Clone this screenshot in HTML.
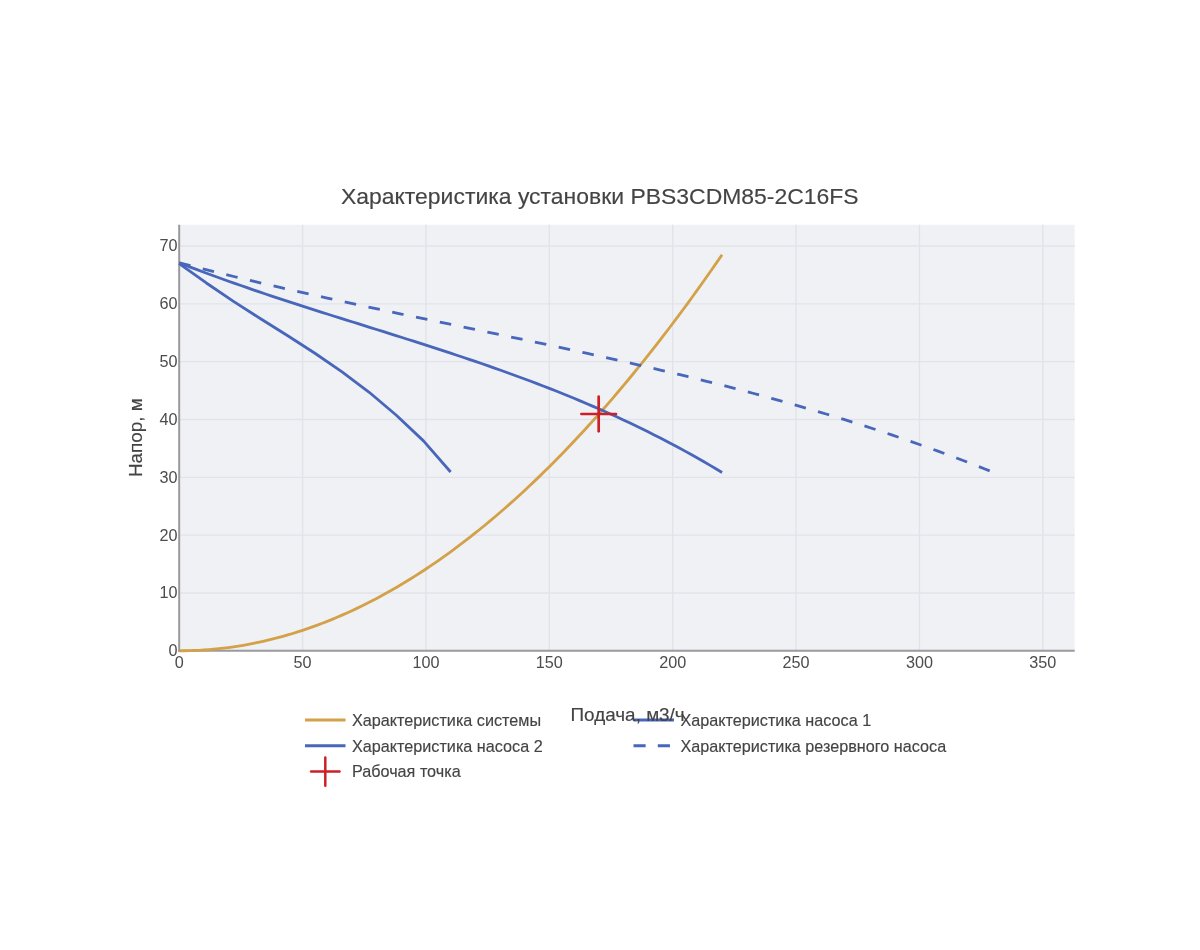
<!DOCTYPE html>
<html><head><meta charset="utf-8"><style>html,body{margin:0;padding:0;background:#fff;width:1200px;height:950px;overflow:hidden;position:relative}</style></head>
<body><svg width="1200" height="950" viewBox="0 0 1200 950" style="position:absolute;left:0;top:0;filter:blur(0.7px)">
<rect x="-10" y="-10" width="1220" height="970" fill="#fff"/>
<rect x="179.19" y="224.8" width="895.51" height="426.00" fill="#f0f1f5"/>
<g stroke="#e1e3e9" stroke-width="1.35"><line x1="302.57" y1="224.8" x2="302.57" y2="650.8" /><line x1="425.95" y1="224.8" x2="425.95" y2="650.8" /><line x1="549.33" y1="224.8" x2="549.33" y2="650.8" /><line x1="672.71" y1="224.8" x2="672.71" y2="650.8" /><line x1="796.09" y1="224.8" x2="796.09" y2="650.8" /><line x1="919.47" y1="224.8" x2="919.47" y2="650.8" /><line x1="1042.85" y1="224.8" x2="1042.85" y2="650.8" /><line x1="179.19" y1="592.97" x2="1074.7" y2="592.97" /><line x1="179.19" y1="535.14" x2="1074.7" y2="535.14" /><line x1="179.19" y1="477.31" x2="1074.7" y2="477.31" /><line x1="179.19" y1="419.48" x2="1074.7" y2="419.48" /><line x1="179.19" y1="361.65" x2="1074.7" y2="361.65" /><line x1="179.19" y1="303.82" x2="1074.7" y2="303.82" /><line x1="179.19" y1="245.99" x2="1074.7" y2="245.99" /></g>
<g stroke="#9a9a9e" stroke-width="2">
<line x1="179.19" y1="224.8" x2="179.19" y2="651.8"/>
<line x1="178.19" y1="650.8" x2="1074.7" y2="650.8"/>
</g>
<g fill="none" stroke-width="2.8" stroke-linejoin="round">
<path d="M179.19,650.80 L184.13,650.77 L189.06,650.67 L194.00,650.51 L198.93,650.28 L203.87,649.98 L208.80,649.62 L213.74,649.20 L218.67,648.71 L223.61,648.15 L228.54,647.53 L233.48,646.84 L238.41,646.09 L243.35,645.27 L248.28,644.38 L253.22,643.44 L258.15,642.42 L263.09,641.34 L268.02,640.19 L272.96,638.98 L277.89,637.71 L282.83,636.37 L287.76,634.96 L292.70,633.48 L297.63,631.95 L302.57,630.34 L307.51,628.67 L312.44,626.94 L317.38,625.14 L322.31,623.27 L327.25,621.34 L332.18,619.34 L337.12,617.28 L342.05,615.16 L346.99,612.96 L351.92,610.70 L356.86,608.38 L361.79,605.99 L366.73,603.54 L371.66,601.01 L376.60,598.43 L381.53,595.78 L386.47,593.06 L391.40,590.28 L396.34,587.43 L401.27,584.52 L406.21,581.54 L411.14,578.50 L416.08,575.39 L421.01,572.21 L425.95,568.97 L430.89,565.66 L435.82,562.29 L440.76,558.86 L445.69,555.35 L450.63,551.79 L455.56,548.15 L460.50,544.45 L465.43,540.69 L470.37,536.86 L475.30,532.97 L480.24,529.01 L485.17,524.98 L490.11,520.89 L495.04,516.73 L499.98,512.51 L504.91,508.22 L509.85,503.87 L514.78,499.45 L519.72,494.96 L524.65,490.41 L529.59,485.80 L534.52,481.12 L539.46,476.37 L544.39,471.56 L549.33,466.68 L554.27,461.74 L559.20,456.73 L564.14,451.66 L569.07,446.52 L574.01,441.32 L578.94,436.05 L583.88,430.71 L588.81,425.31 L593.75,419.84 L598.68,414.31 L603.62,408.72 L608.55,403.05 L613.49,397.33 L618.42,391.53 L623.36,385.67 L628.29,379.75 L633.23,373.76 L638.16,367.70 L643.10,361.58 L648.03,355.40 L652.97,349.14 L657.90,342.83 L662.84,336.44 L667.77,330.00 L672.71,323.48 L677.65,316.90 L682.58,310.26 L687.52,303.55 L692.45,296.77 L697.39,289.93 L702.32,283.03 L707.26,276.05 L712.19,269.02 L717.13,261.91 L722.06,254.75" stroke="#d2a148"/>
<path d="M179.19,263.63 L206.33,282.97 L233.48,301.39 L260.62,318.76 L287.76,335.80 L314.91,353.24 L342.05,371.82 L369.20,392.26 L396.34,415.29 L423.48,440.88 L450.63,472.04" stroke="#4866ba"/>
<path d="M179.19,262.79 L185.36,265.19 L191.53,267.57 L197.70,269.91 L203.87,272.22 L210.03,274.51 L216.20,276.76 L222.37,279.00 L228.54,281.20 L234.71,283.39 L240.88,285.55 L247.05,287.69 L253.22,289.81 L259.39,291.90 L265.56,293.98 L271.73,296.05 L277.89,298.09 L284.06,300.13 L290.23,302.14 L296.40,304.15 L302.57,306.14 L308.74,308.12 L314.91,310.09 L321.08,312.06 L327.25,314.01 L333.41,315.96 L339.58,317.91 L345.75,319.84 L351.92,321.78 L358.09,323.71 L364.26,325.65 L370.43,327.58 L376.60,329.51 L382.77,331.44 L388.94,333.38 L395.11,335.32 L401.27,337.27 L407.44,339.23 L413.61,341.19 L419.78,343.16 L425.95,345.14 L432.12,347.12 L438.29,349.13 L444.46,351.14 L450.63,353.17 L456.80,355.21 L462.96,357.27 L469.13,359.35 L475.30,361.44 L481.47,363.55 L487.64,365.69 L493.81,367.84 L499.98,370.02 L506.15,372.22 L512.32,374.45 L518.49,376.70 L524.65,378.98 L530.82,381.28 L536.99,383.62 L543.16,385.98 L549.33,388.38 L555.50,390.80 L561.67,393.27 L567.84,395.76 L574.01,398.29 L580.17,400.86 L586.34,403.46 L592.51,406.11 L598.68,408.79 L604.85,411.51 L611.02,414.28 L617.19,417.09 L623.36,419.94 L629.53,422.84 L635.70,425.78 L641.87,428.77 L648.03,431.81 L654.20,434.90 L660.37,438.04 L666.54,441.23 L672.71,444.47 L678.88,447.77 L685.05,451.12 L691.22,454.52 L697.39,457.99 L703.56,461.51 L709.72,465.09 L715.89,468.73 L722.06,472.43" stroke="#4866ba"/>
<path d="M179.19,262.79 L188.44,265.19 L197.70,267.57 L206.95,269.91 L216.20,272.22 L225.46,274.51 L234.71,276.76 L243.96,279.00 L253.22,281.20 L262.47,283.39 L271.73,285.55 L280.98,287.69 L290.23,289.81 L299.49,291.90 L308.74,293.98 L317.99,296.05 L327.25,298.09 L336.50,300.13 L345.75,302.14 L355.01,304.15 L364.26,306.14 L373.51,308.12 L382.77,310.09 L392.02,312.06 L401.27,314.01 L410.53,315.96 L419.78,317.91 L429.03,319.84 L438.29,321.78 L447.54,323.71 L456.80,325.65 L466.05,327.58 L475.30,329.51 L484.56,331.44 L493.81,333.38 L503.06,335.32 L512.32,337.27 L521.57,339.23 L530.82,341.19 L540.08,343.16 L549.33,345.14 L558.58,347.12 L567.84,349.13 L577.09,351.14 L586.34,353.17 L595.60,355.21 L604.85,357.27 L614.10,359.35 L623.36,361.44 L632.61,363.55 L641.87,365.69 L651.12,367.84 L660.37,370.02 L669.63,372.22 L678.88,374.45 L688.13,376.70 L697.39,378.98 L706.64,381.28 L715.89,383.62 L725.15,385.98 L734.40,388.38 L743.65,390.80 L752.91,393.27 L762.16,395.76 L771.41,398.29 L780.67,400.86 L789.92,403.46 L799.17,406.11 L808.43,408.79 L817.68,411.51 L826.93,414.28 L836.19,417.09 L845.44,419.94 L854.70,422.84 L863.95,425.78 L873.20,428.77 L882.46,431.81 L891.71,434.90 L900.96,438.04 L910.22,441.23 L919.47,444.47 L928.72,447.77 L937.98,451.12 L947.23,454.52 L956.48,457.99 L965.74,461.51 L974.99,465.09 L984.24,468.73 L993.50,472.43" stroke="#4866ba" stroke-dasharray="11.6,12.7"/>
</g>
<g stroke="#cc2028" stroke-width="2.7" stroke-linecap="round">
<line x1="581.38" y1="413.99" x2="615.98" y2="413.99"/>
<line x1="598.68" y1="396.69" x2="598.68" y2="431.29"/>
</g>
<g font-family="Liberation Sans, sans-serif" font-size="16.2" fill="#4c4c4c"><text transform="translate(179.19,668.30) scale(1,1.0)" text-anchor="middle">0</text><text transform="translate(302.57,668.30) scale(1,1.0)" text-anchor="middle">50</text><text transform="translate(425.95,668.30) scale(1,1.0)" text-anchor="middle">100</text><text transform="translate(549.33,668.30) scale(1,1.0)" text-anchor="middle">150</text><text transform="translate(672.71,668.30) scale(1,1.0)" text-anchor="middle">200</text><text transform="translate(796.09,668.30) scale(1,1.0)" text-anchor="middle">250</text><text transform="translate(919.47,668.30) scale(1,1.0)" text-anchor="middle">300</text><text transform="translate(1042.85,668.30) scale(1,1.0)" text-anchor="middle">350</text><text transform="translate(177.40,656.20) scale(1,1.0)" text-anchor="end">0</text><text transform="translate(177.40,598.37) scale(1,1.0)" text-anchor="end">10</text><text transform="translate(177.40,540.54) scale(1,1.0)" text-anchor="end">20</text><text transform="translate(177.40,482.71) scale(1,1.0)" text-anchor="end">30</text><text transform="translate(177.40,424.88) scale(1,1.0)" text-anchor="end">40</text><text transform="translate(177.40,367.05) scale(1,1.0)" text-anchor="end">50</text><text transform="translate(177.40,309.22) scale(1,1.0)" text-anchor="end">60</text><text transform="translate(177.40,251.39) scale(1,1.0)" text-anchor="end">70</text></g>
<g font-family="Liberation Sans, sans-serif" font-size="22.95" fill="#444" stroke="#444" stroke-width="0.15"><text transform="translate(341.00,203.75) scale(1,1.0)" text-anchor="start">Характеристика установки PBS3CDM85-2C16FS</text></g>
<g stroke-width="3.0" fill="none">
<line x1="305" y1="719.9" x2="345.5" y2="719.9" stroke="#d2a148"/>
<line x1="305" y1="745.8" x2="345.5" y2="745.8" stroke="#4866ba"/>
<line x1="633.5" y1="720.1" x2="674" y2="720.1" stroke="#4866ba"/>
<line x1="633.5" y1="745.8" x2="674" y2="745.8" stroke="#4866ba" stroke-dasharray="12.15,12.15"/>
</g>
<g stroke="#cc2028" stroke-width="2.5" stroke-linecap="round">
<line x1="311.1" y1="771.6" x2="339.5" y2="771.6"/>
<line x1="325.3" y1="757.4" x2="325.3" y2="785.8"/>
</g>
<g font-family="Liberation Sans, sans-serif" font-size="16.2" fill="#444" stroke="#444" stroke-width="0.15">
<text transform="translate(352.00,725.60) scale(1,1.0)" text-anchor="start">Характеристика системы</text>
<text transform="translate(352.00,751.60) scale(1,1.0)" text-anchor="start">Характеристика насоса 2</text>
<text transform="translate(352.00,776.90) scale(1,1.0)" text-anchor="start">Рабочая точка</text>
<text transform="translate(680.50,726.30) scale(1,1.0)" text-anchor="start">Характеристика насоса 1</text>
<text transform="translate(680.50,751.75) scale(1,1.0)" text-anchor="start">Характеристика резервного насоса</text>
</g>
<g font-family="Liberation Sans, sans-serif" font-size="18.9" fill="#444" stroke="#444" stroke-width="0.15"><text transform="translate(570.50,721.00) scale(1,1.0)" text-anchor="start">Подача, м3/ч</text><text transform="translate(142.40,437.60) rotate(-90) scale(1,1.0)" text-anchor="middle">Напор, м</text></g>
</svg></body></html>
